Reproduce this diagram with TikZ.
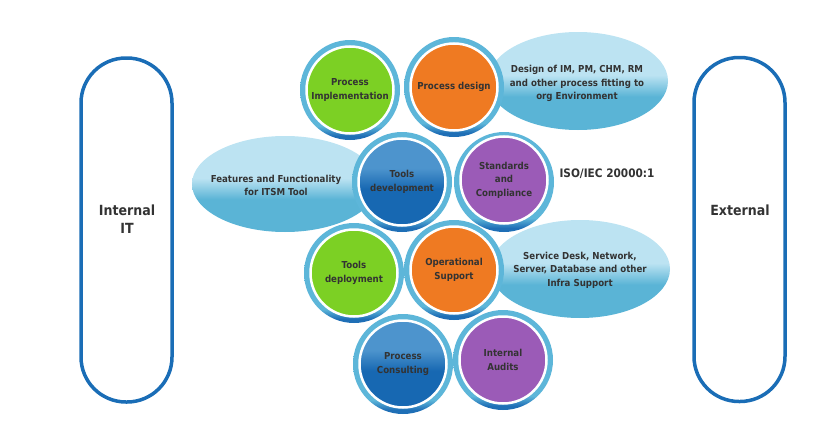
\documentclass[tikz,border=0pt]{standalone}
\usepackage{fontspec}
\setmainfont{DejaVu Sans Condensed}
\usetikzlibrary{shapes.geometric}
\definecolor{ringc}{HTML}{5DB6D9}
\definecolor{ringd}{HTML}{1F6FB6}
\definecolor{gr}{HTML}{7CD024}
\definecolor{orc}{HTML}{EF7A22}
\definecolor{pu}{HTML}{9B5BB7}
\definecolor{bl}{HTML}{1768B2}
\definecolor{bll}{HTML}{4D94CD}
\definecolor{elt}{HTML}{BCE3F2}
\definecolor{elb}{HTML}{5AB4D6}
\definecolor{txt}{HTML}{333333}
\definecolor{capc}{HTML}{1A6DB6}
\pgfdeclareverticalshading{ringsh}{100bp}{color(0bp)=(ringd); color(27bp)=(ringd); color(32bp)=(ringc); color(100bp)=(ringc)}
\pgfdeclareverticalshading{ellsh}{100bp}{color(0bp)=(elb); color(42bp)=(elb); color(53bp)=(elt); color(100bp)=(elt)}
\pgfdeclareverticalshading{bluesh}{100bp}{color(0bp)=(bl); color(46bp)=(bl); color(58bp)=(bll); color(100bp)=(bll)}
\begin{document}
\begin{tikzpicture}[x=1pt,y=-1pt,
  ring/.style={circle, minimum size=100, inner sep=0, shading=ringsh},
  core/.style={circle, minimum size=87, inner sep=0, draw=white, line width=2.5,
    text=txt, font=\bfseries\fontsize{9.6}{13.5}\selectfont, align=center},
  ell/.style={ellipse, minimum width=180, minimum height=98, inner sep=0, shading=ellsh},
  lbl/.style={text=txt, font=\bfseries\fontsize{9.6}{13.5}\selectfont, align=center, inner sep=0},
  biglbl/.style={text=txt, font=\bfseries\fontsize{14}{18}\selectfont, align=center, inner sep=0},
  capsule/.style={rectangle, draw=capc, line width=3.5, rounded corners=45,
    minimum width=91, minimum height=344, inner sep=0}]
\useasboundingbox (0,0) rectangle (823,423);
% capsules
\node[capsule] (intcap) at (126.5,230) {};
\node[biglbl] (inttxt) at (127,219.5) {Internal\\IT};
\node[capsule] (extcap) at (739.5,229.5) {};
\node[biglbl] (exttxt) at (740,210) {External};
% ellipses
\node[ell] (desell) at (578,81) {};
\node[lbl] (destxt) at (577,83.5) {Design of IM, PM, CHM, RM\\and other process fitting to\\org Environment};
\node[ell, minimum width=186, minimum height=96] (feaell) at (285,184) {};
\node[lbl] (featxt) at (276,185.5) {Features and Functionality\\for ITSM Tool};
\node[ell] (serell) at (580,269) {};
\node[lbl] (sertxt) at (580,270) {Service Desk, Network,\\Server, Database and other\\Infra Support};
% circles
\node[ring] (pir) at (350,90) {};
\node[core, fill=gr] (pi) at (350,90) {Process\\Implementation};
\node[ring] (pdr) at (454,87) {};
\node[core, fill=orc] (pd) at (454,87) {Process design};
\node[ring] (tdr) at (402,182) {};
\node[core, shading=bluesh] (td) at (402,182) {Tools\\development};
\node[ring] (scr) at (504,182) {};
\node[core, fill=pu] (sc) at (504,180) {Standards\\and\\Compliance};
\node[ring] (tyr) at (354,273) {};
\node[core, fill=gr] (ty) at (354,273) {Tools\\deployment};
\node[ring] (osr) at (454,270) {};
\node[core, fill=orc] (os) at (454,270) {Operational\\Support};
\node[ring] (pcr) at (403,364) {};
\node[core, shading=bluesh] (pc) at (403,364) {Process\\Consulting};
\node[ring] (iar) at (503,360) {};
\node[core, fill=pu] (ia) at (503,360) {Internal\\Audits};
% ISO label
\node[text=txt, font=\bfseries\fontsize{11.7}{14}\selectfont, inner sep=0] (iso) at (607,174) {ISO/IEC 20000:1};
\end{tikzpicture}
\end{document}
